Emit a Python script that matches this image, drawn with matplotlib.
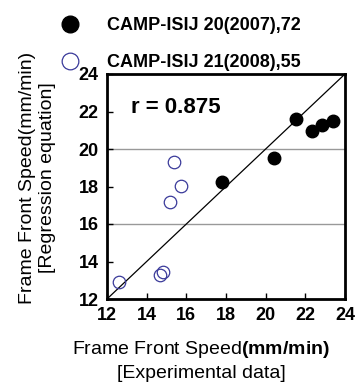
import numpy as np
import matplotlib.pyplot as plt
from matplotlib.lines import Line2D

plt.rcParams['font.family'] = ['Liberation Sans', 'DejaVu Sans']
plt.rcParams['mathtext.fontset'] = 'custom'
plt.rcParams['mathtext.bf'] = 'Liberation Sans:bold'
plt.rcParams['mathtext.rm'] = 'Liberation Sans'

# CAMP-ISIJ 20 (2007), filled
exp07 = [21.53, 20.44, 17.82, 22.35, 22.82, 23.41]
reg07 = [21.58, 19.50, 18.22, 20.96, 21.28, 21.51]
# CAMP-ISIJ 21 (2008), open
exp08 = [12.6, 14.67, 14.81, 15.38, 15.71, 15.18]
reg08 = [12.92, 13.28, 13.42, 19.32, 18.04, 17.17]
ticks = [12, 14, 16, 18, 20, 22, 24]
labels = ['CAMP-ISIJ 20(2007),72', 'CAMP-ISIJ 21(2008),55']

fig = plt.figure(figsize=(3.59, 3.89), dpi=100)
ax = fig.add_axes([107/359, 1-299/389, 238/359, 225/389])

for y in [16, 20]:
    ax.axhline(y, color='#999999', lw=1, zorder=1)
ax.plot([12, 24], [12, 24], color='black', lw=0.9, zorder=2)
ax.plot(exp07, reg07, 'o', ms=9, mfc='black', mec='black', zorder=3)
ax.plot(exp08, reg08, 'o', ms=9, mfc='none', mec='#3a3a9a', mew=0.9, zorder=3)

ax.text(13.2, 22.2, 'r = 0.875', fontsize=16, fontweight='bold', va='center')

ax.set_xlim(12, 24)
ax.set_ylim(12, 24)
ax.set_xticks(ticks)
ax.set_yticks(ticks)
ax.tick_params(direction='in', length=4, width=1, labelsize=13, pad=6)
for t in ax.get_xticklabels() + ax.get_yticklabels():
    t.set_fontweight('bold')
for s in ax.spines.values():
    s.set_linewidth(2)

ax.set_xlabel('Frame Front Speed$\\mathbf{(mm/min)}$\n[Experimental data]', fontsize=14,
              linespacing=1.35)
ax.xaxis.set_label_coords(0.395, -0.18)
ax.set_ylabel('Frame Front Speed(mm/min)\n[Regression equation]', fontsize=14,
              linespacing=1.25)
ax.yaxis.set_label_coords(-0.215, 0.54)

handles = [Line2D([], [], ls='none', marker='o', ms=12, mfc='black', mec='black'),
           Line2D([], [], ls='none', marker='o', ms=12, mfc='none', mec='#3a3a9a', mew=0.9)]
leg = fig.legend(handles, labels, loc='upper left', bbox_to_anchor=(53/359, 1 - 17/389),
                 frameon=False, prop={'weight': 'bold', 'size': 13},
                 borderpad=0, borderaxespad=0, handlelength=1.9, handletextpad=1.1,
                 labelspacing=1.1)

fig.savefig('out.png', dpi=100)
